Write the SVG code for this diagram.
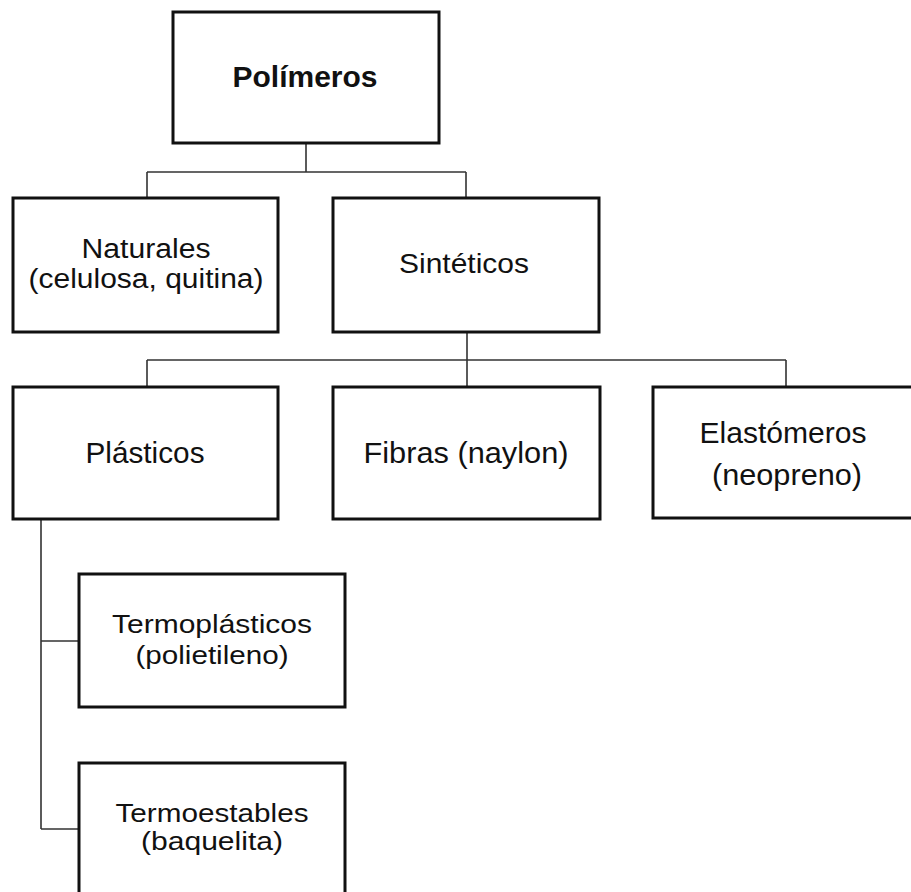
<svg xmlns="http://www.w3.org/2000/svg" width="911" height="892" viewBox="0 0 911 892">
  <style>
    .box { fill: #ffffff; stroke: #111111; stroke-width: 3; }
    .conn { fill: none; stroke: #333333; stroke-width: 1.6; }
    .lbl { font-family: "Liberation Sans", Arial, sans-serif; font-size: 26px; fill: #111111; text-anchor: middle; }
    .mid { font-size: 29px; }
    .title { font-family: "Liberation Sans", Arial, sans-serif; font-size: 29px; font-weight: bold; fill: #111111; text-anchor: middle; }
  </style>
  <rect x="0" y="0" width="911" height="892" fill="#ffffff"/>
  <g id="connectors">
    <path class="conn" d="M306 143 V172 M147 172 H466 M147 172 V198 M466 172 V198"/>
    <path class="conn" d="M467 332 V387 M147 360 H786 M147 360 V387 M786 360 V387"/>
    <path class="conn" d="M41 519 V829 M41 641 H79 M41 829 H79"/>
  </g>
  <g id="polimeros">
    <rect class="box" x="173" y="12" width="266" height="131"/>
    <text class="title" x="305" y="87" textLength="145" lengthAdjust="spacingAndGlyphs">Polímeros</text>
  </g>
  <g id="naturales">
    <rect class="box" x="13" y="198" width="265" height="134"/>
    <text class="lbl" x="146" y="258" style="font-size:27px" textLength="129" lengthAdjust="spacingAndGlyphs">Naturales</text>
    <text class="lbl" x="146" y="288" style="font-size:27px" textLength="235" lengthAdjust="spacingAndGlyphs">(celulosa, quitina)</text>
  </g>
  <g id="sinteticos">
    <rect class="box" x="333" y="198" width="266" height="134"/>
    <text class="lbl" x="464" y="273" style="font-size:28px" textLength="130" lengthAdjust="spacingAndGlyphs">Sintéticos</text>
  </g>
  <g id="plasticos">
    <rect class="box" x="13" y="387" width="265" height="132"/>
    <text class="lbl mid" x="145" y="463" textLength="119" lengthAdjust="spacingAndGlyphs">Plásticos</text>
  </g>
  <g id="fibras">
    <rect class="box" x="333" y="387" width="267" height="132"/>
    <text class="lbl mid" x="466" y="463" textLength="205" lengthAdjust="spacingAndGlyphs">Fibras (naylon)</text>
  </g>
  <g id="elastomeros">
    <rect class="box" x="653" y="387" width="272" height="131"/>
    <text class="lbl" x="783" y="443" style="font-size:30px" textLength="167" lengthAdjust="spacingAndGlyphs">Elastómeros</text>
    <text class="lbl" x="787" y="485" style="font-size:30px" textLength="150" lengthAdjust="spacingAndGlyphs">(neopreno)</text>
  </g>
  <g id="termoplasticos">
    <rect class="box" x="79" y="574" width="266" height="133"/>
    <text class="lbl" x="212" y="633" textLength="200" lengthAdjust="spacingAndGlyphs">Termoplásticos</text>
    <text class="lbl" x="212" y="664" textLength="153" lengthAdjust="spacingAndGlyphs">(polietileno)</text>
  </g>
  <g id="termoestables">
    <rect class="box" x="79" y="763" width="266" height="135"/>
    <text class="lbl" x="212" y="822" textLength="193" lengthAdjust="spacingAndGlyphs">Termoestables</text>
    <text class="lbl" x="212" y="850" textLength="142" lengthAdjust="spacingAndGlyphs">(baquelita)</text>
  </g>
</svg>
